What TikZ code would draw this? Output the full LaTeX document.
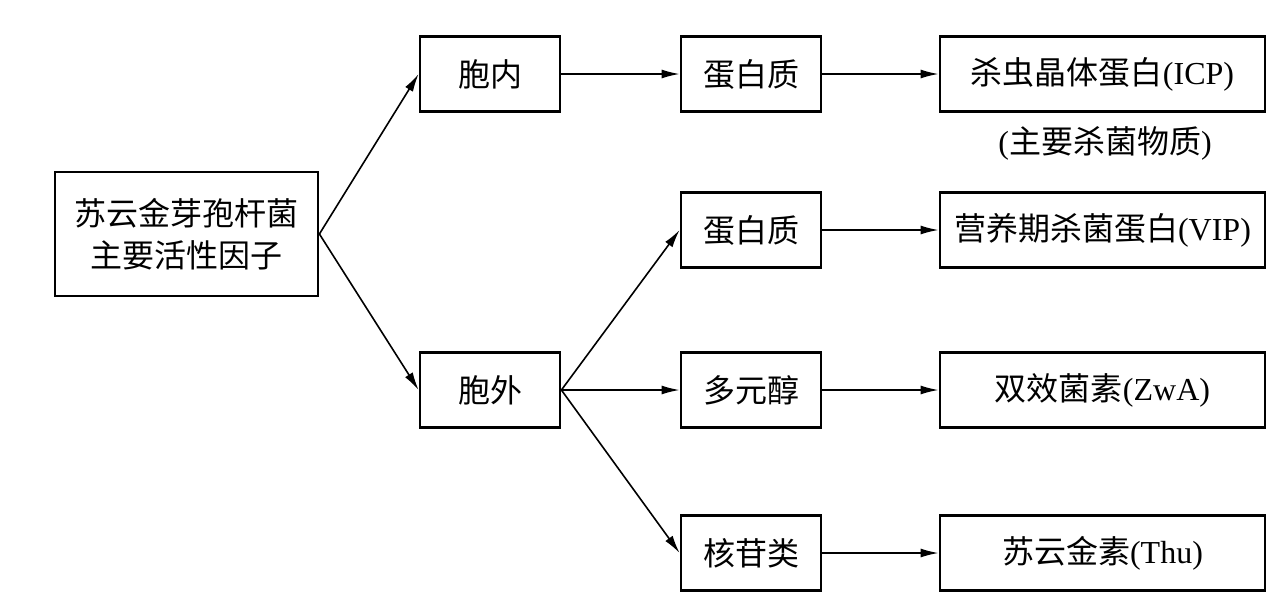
\documentclass[tikz,border=0pt]{standalone}
\usepackage{fontspec}
\setmainfont{Liberation Serif}
\newfontfamily\cjk{Noto Sans CJK SC}
\usetikzlibrary{arrows.meta}
\begin{document}
\begin{tikzpicture}[x=0.5pt,y=-0.5pt,
  txt/.style={inner sep=0pt,font=\fontsize{16pt}{21pt}\selectfont\cjk,align=center},
  box/.style={txt,draw,line width=1.4pt},
  small/.style={box,minimum width=70pt,minimum height=37.5pt},
  wide/.style={box,minimum width=162.5pt,minimum height=37.5pt},
  arr/.style={-{Latex[length=9pt,width=4.5pt]},line width=0.8pt}]
\useasboundingbox[fill=white] (0,0) rectangle (1275,601);
\node[box,minimum width=131.5pt,minimum height=62pt] (root) at (186.5,234) {苏云金芽孢杆菌\\主要活性因子};
\node[small] (in) at (490,74) {胞内};
\node[small] (out) at (490,390) {胞外};
\node[small] (p1) at (751,74) {蛋白质};
\node[small] (p2) at (751,230) {蛋白质};
\node[small] (poly) at (751,390) {多元醇};
\node[small] (nuc) at (751,553) {核苷类};
\node[wide] (icp) at (1102.5,74) {杀虫晶体蛋白{\rmfamily(ICP)}};
\node[txt] (note) at (1105,143) {{\rmfamily(}主要杀菌物质{\rmfamily)}};
\node[wide] (vip) at (1102.5,230) {营养期杀菌蛋白{\rmfamily(VIP)}};
\node[wide] (zwa) at (1102.5,390) {双效菌素{\rmfamily(ZwA)}};
\node[wide] (thu) at (1102.5,553) {苏云金素{\rmfamily(Thu)}};
\draw[arr] (root.east) -- (in.west);
\draw[arr] (root.east) -- (out.west);
\draw[arr] (in.east) -- (p1.west);
\draw[arr] (out.east) -- (p2.west);
\draw[arr] (out.east) -- (poly.west);
\draw[arr] (out.east) -- (nuc.west);
\draw[arr] (p1.east) -- (icp.west);
\draw[arr] (p2.east) -- (vip.west);
\draw[arr] (poly.east) -- (zwa.west);
\draw[arr] (nuc.east) -- (thu.west);
\end{tikzpicture}
\end{document}
